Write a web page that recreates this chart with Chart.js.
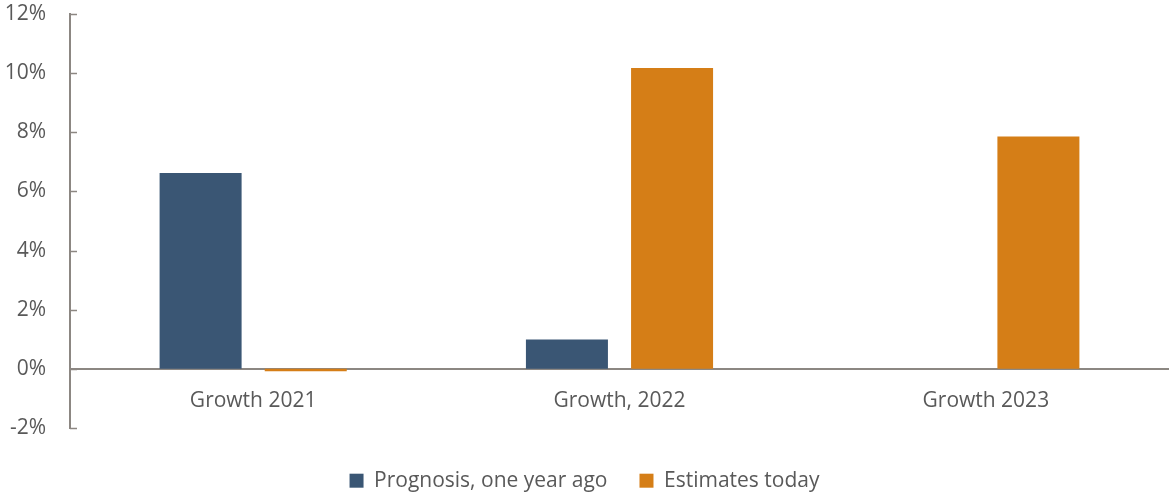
<!DOCTYPE html>
<html>
<head>
<meta charset="utf-8">
<script src="https://cdn.jsdelivr.net/npm/chart.js@4"></script>
<style>
  html, body { margin: 0; padding: 0; background: #fff; overflow: hidden; }
  canvas { display: block; }
</style>
</head>
<body>
<canvas id="myChart" width="1169" height="493"></canvas>
<script>
var categories = ['Growth 2021', 'Growth, 2022', 'Growth 2023'];
var prognosis = [6.62, 0.99, null];
var estimates = [-0.08, 10.17, 7.86];
var yTicks = [-2, 0, 2, 4, 6, 8, 10, 12];

var axisGray = '#8c8782';
var textGray = '#595959';
var fontFam = 'Open Sans';

// small tick marks pointing into the plot, like the original
var innerTicks = {
  id: 'innerTicks',
  afterDraw: function (chart) {
    var y = chart.scales.y;
    var ctx = chart.ctx;
    ctx.save();
    ctx.strokeStyle = axisGray;
    ctx.lineWidth = 1.5;
    yTicks.forEach(function (v) {
      var py = Math.round(y.getPixelForValue(v)) + 0.5;
      ctx.beginPath();
      ctx.moveTo(y.right, py);
      ctx.lineTo(y.right + 7, py);
      ctx.stroke();
    });
    ctx.restore();
  }
};

// fixed legend height so the plot bottom lands where it should
var legendHeight = {
  id: 'legendHeight',
  beforeLayout: function (chart) {
    var lg = chart.legend;
    if (!lg || lg._patched) return;
    var orig = lg.fit;
    lg.fit = function () { orig.call(this); this.height = 65; };
    lg._patched = true;
  }
};

const data = {
  labels: categories,
  datasets: [{
    label: 'Prognosis, one year ago',
    backgroundColor: '#3a5674',
    data: prognosis
  }, {
    label: 'Estimates today',
    backgroundColor: '#d57e17',
    data: estimates
  }]
};

const config = {
  type: 'bar',
  data: data,
  plugins: [innerTicks, legendHeight],
  options: {
    responsive: false,
    animation: false,
    datasets: {
      bar: { categoryPercentage: 0.574, barPercentage: 0.78 }
    },
    layout: { padding: 0 },
    plugins: {
      tooltip: { enabled: false },
      legend: {
        position: 'bottom',
        title: { display: true, text: ' ', padding: { top: 9, bottom: 0 }, font: { size: 1 } },
        labels: {
          font: { family: fontFam, size: 21 },
          color: textGray,
          boxWidth: 14,
          boxHeight: 14,
          padding: 32
        }
      }
    },
    scales: {
      x: {
        position: { y: 0 },
        afterFit: function (s) { s.height = 0; },
        grid: { display: false, drawTicks: false },
        border: { color: axisGray, width: 2 },
        ticks: {
          font: { family: fontFam, size: 21 },
          color: textGray,
          padding: 20,
          maxRotation: 0,
          autoSkip: false
        }
      },
      y: {
        min: -2,
        max: 12,
        afterFit: function (s) {
          s.width = 70;
          s.paddingTop = 14;
          s.paddingBottom = 0;
        },
        afterBuildTicks: function (s) {
          s.ticks = yTicks.map(function (v) { return { value: v }; });
        },
        grid: { display: false, drawTicks: false },
        border: { color: axisGray, width: 2 },
        ticks: {
          font: { family: fontFam, size: 21 },
          color: textGray,
          padding: 24,
          callback: function (v) { return v + '%'; }
        }
      }
    }
  }
};

const myChart = new Chart(document.getElementById('myChart'), config);
</script>
</body>
</html>
